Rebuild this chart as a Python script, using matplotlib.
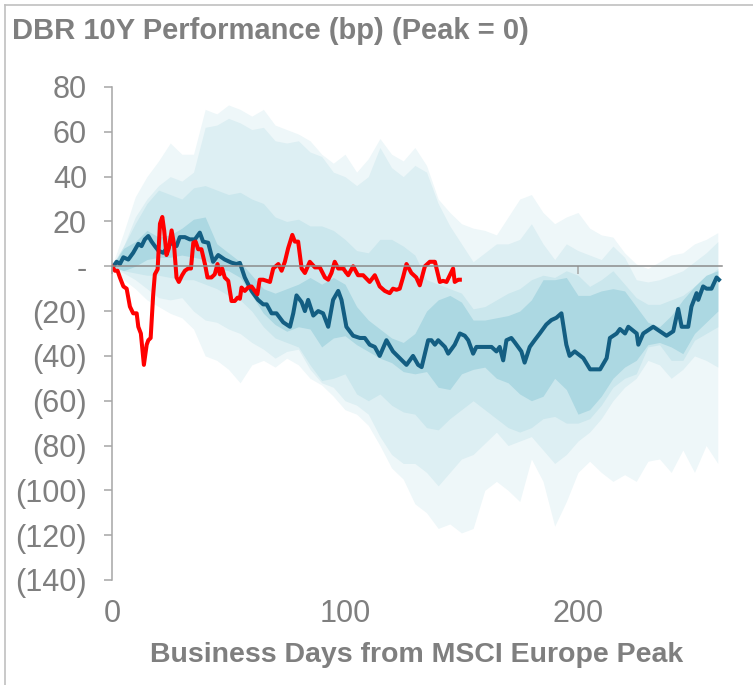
import numpy as np
import matplotlib
matplotlib.use("Agg")
import matplotlib.pyplot as plt
from matplotlib.ticker import FuncFormatter
from matplotlib.lines import Line2D

plt.rcParams['font.family'] = ['Liberation Sans', 'DejaVu Sans']

# percentile bands of past sell-offs, every 5 business days
band_days = list(range(0, 261, 5))
outer_hi = [0, 15, 31, 40, 47, 55, 50, 50, 70, 68, 72, 70, 67, 70, 63, 61, 59, 56, 50, 46,
            50, 42, 48, 57, 50, 47, 53, 45, 30, 24, 19, 17, 16, 14, 22, 30, 32, 24, 19, 22,
            24, 17, 14, 13, 6, 1, -1, 2, 5, 6, 10, 12, 15]
band2_hi = [0, 9, 22, 30, 36, 40, 38, 42, 62, 63, 66, 64, 61, 62, 56, 55, 56, 51, 49, 42,
            40, 36, 40, 53, 44, 40, 45, 42, 28, 18, 10, 2, 6, 10, 10, 12, 19, 10, 3, 10,
            7, 5, 3, 9, 4, -6, -7, -6, -4, -2, 2, 6, 11]
band3_hi = [0, 9, 19, 28, 34, 32, 30, 35, 36, 34, 32, 33, 30, 28, 22, 20, 21, 18, 18, 16,
            12, 7, 6, 12, 12, 9, 5, -6, -8, -10, -12, -19, -18, -15, -12, -10, -6, -4, -5, -2,
            -4, -9, -6, -2, -8, -14, -17, -17, -15, -13, -9, -5, -1]
inner_hi = [0, 8, 11, 16, 13, 14, 17, 21, 22, 10, 6, 2, -4, -10, -12, -10, -8, -5, -8, -5,
            -8, -18, -24, -28, -32, -34, -30, -20, -15, -13, -16, -24, -24, -23, -22, -20, -15, -6, -6, -5,
            -13, -13, -11, -10, -11, -18, -25, -27, -22, -15, -9, -4, -2]
inner_lo = [0, -2, 0, 3, 4, 4, 5, 4, 3, -1, -2, -5, -13, -21, -26, -29, -27, -28, -36, -32,
            -31, -35, -38, -41, -43, -47, -48, -47, -54, -55, -48, -46, -45, -50, -52, -57, -60, -58, -50, -55,
            -66, -64, -58, -50, -45, -42, -35, -34, -36, -39, -30, -25, -20]
band3_lo = [0, -2, -3, -4, -4, -5, -6, -6, -8, -10, -13, -15, -20, -27, -32, -34, -36, -44, -51, -50,
            -48, -57, -60, -57, -62, -65, -66, -72, -73, -68, -64, -60, -64, -68, -72, -74, -72, -68, -67, -70,
            -70, -68, -62, -54, -50, -48, -36, -35, -42, -42, -33, -30, -27]
band2_lo = [0, -3, -6, -10, -14, -15, -14, -20, -24, -25, -28, -30, -34, -37, -41, -38, -37, -46, -52, -54,
            -60, -62, -66, -76, -84, -88, -88, -92, -98, -92, -86, -84, -79, -74, -80, -78, -76, -82, -88, -84,
            -78, -74, -68, -60, -54, -50, -42, -44, -50, -46, -40, -42, -45]
outer_lo = [0, -6, -10, -15, -18, -21, -23, -28, -40, -42, -46, -52, -44, -42, -45, -41, -44, -50, -53, -58,
            -64, -66, -71, -80, -90, -95, -106, -110, -117, -115, -119, -117, -100, -96, -100, -105, -86, -96, -116, -105,
            -92, -87, -92, -96, -93, -96, -87, -86, -92, -82, -92, -80, -88]

# median path
med_days = [0, 0.6, 2, 3.4, 4.9, 7, 9.1, 11.3, 12.7, 14.1, 15.6, 17, 18.4, 19.9, 22, 23.4, 25.6, 27.7,
            29.1, 31.3, 33.4, 35.6, 37.7, 39.1, 41.3, 43.4, 45.6, 48.4, 51.3, 53.4, 54.9, 57, 59.9, 62.7,
            64.9, 66.4, 68.5, 70.6, 73.5, 76.4, 77.8, 79.2, 81.4, 82.8, 84.2, 86.4, 88.5, 90.6, 92.8, 94.9,
            97.1, 98.5, 100.6, 103.5, 106.4, 108.5, 110.6, 112.8, 114.9, 117.8, 120.6, 123.5, 126.4, 129.2,
            131.4, 132.9, 135.7, 137.1, 138.6, 140, 142.9, 144.3, 147.1, 149.3, 151.4, 152.9, 155, 156.4,
            157.9, 162.9, 165, 166.4, 167.9, 169.3, 171.4, 172.9, 175.7, 177.1, 179.3, 181.4, 183.6, 185,
            186.4, 188.6, 190.7, 192.9, 195, 196.4, 198.6, 202.3, 205.2, 209.5, 212.3, 213.7, 216.6, 218,
            220.2, 221.6, 225.2, 225.9, 228, 232.3, 238, 240.9, 243, 244.5, 247.3, 248.7, 250.9, 251.6,
            253.7, 255.2, 257.3, 259.5, 260.5]
med_vals = [0, 0, 2, 1, 4, 3, 6, 10, 9, 12, 13.5, 11, 9, 7, 6, 8, 10.5, 9,
            13, 13, 12, 12, 15, 11, 10.5, 2, 5, 3, 1.6, 1, 1.5, -5, -11, -15,
            -17, -17, -21, -21, -25, -27, -21, -13, -16, -20, -15, -22, -20, -21, -27, -15,
            -11, -15, -27, -31, -32, -32, -35, -36, -40, -33, -38, -41, -44, -40,
            -44, -45, -33, -33, -35, -33, -36, -39, -35, -30, -31, -33, -39, -36,
            -36, -36, -38, -36, -42, -33, -32, -34, -38, -43, -36, -33, -30, -28,
            -26, -24, -23, -21, -35, -40, -38, -41, -46, -46, -41, -32, -30, -28,
            -30, -27, -30, -35, -30, -27, -31, -29, -19, -27, -27, -18, -12, -15,
            -9, -10, -10, -5, -6]

# current episode
cur_days = [0, 1.3, 2.4, 3.4, 4.9, 6.3, 7.7, 9.1, 10.6, 11.3, 12.4, 13.7, 14.9, 15.6, 16.6, 17.7,
            18.4, 19.6, 20.6, 21.6, 22.4, 23.4, 24.4, 25.6, 26.6, 27.7, 28.7, 30.1, 31.3, 32.7, 33.9,
            34.9, 35.9, 37, 38.4, 39.9, 41, 42.7, 44.1, 45.3, 46.3, 47.3, 48.4, 49.9, 51.3, 52.7, 53.9,
            54.9, 55.6, 57, 58.4, 59.9, 61.3, 62.4, 63.4, 64.9, 67.8, 69.2, 71.4, 72.8, 74.2, 75.6,
            77.4, 78.5, 79.9, 81.4, 82.8, 84.9, 87.1, 89.2, 91.4, 92.8, 94.2, 95.6, 97.1, 99.2, 101.4,
            103.5, 105.6, 107.8, 110.6, 112.8, 114.9, 117.1, 119.2, 120.6, 122.1, 123.5, 124.9, 126.4,
            128.5, 130.6, 132.1, 134.3, 136.4, 138.6, 140.7, 142.1, 143.6, 145, 146.4, 147.1, 148.6, 149.3]
cur_vals = [0, -2, -2, -5, -9, -10, -18, -21, -21, -27, -30, -44, -35, -33, -32, -12.5,
            -3.6, -1.3, 19, 22, 16, 5, 8, 16, 10, -5, -7, -4, -2, -1, -1,
            10.5, 11, 7.6, 7.6, 1, -5, -5, -3.6, 1, -3.6, -1, -5, -6.5, -15.5, -15.5, -14,
            -14.5, -9.5, -11, -9.5, -9, -11, -12.5, -6, -6, -7, -1, 1, -2, 2, 8,
            14, 11, 11, -1, -3, 2, -0.5, -0.5, -5, -6, -3, 2, -1, -1, -4,
            0, -4, -4, -7, -4, -9, -11, -12, -10, -10.5, -10, -5, 1,
            -3, -5, -8.5, 0, 2, 2, -7, -6.5, -7, -4, -1, -7, -6, -6]

ytick_vals = list(range(-140, 81, 20))
xtick_vals = [0, 100, 200]


def paren_fmt(v, pos):
    if v == 0:
        return "-"
    if v < 0:
        return "(%d)" % abs(v)
    return "%d" % v


grey = "#7f7f7f"
fig = plt.figure(figsize=(7.53, 6.85), dpi=100)
ax = fig.add_axes([0.1487, 0.1533, 0.8101, 0.7197])

ax.fill_between(band_days, outer_lo, outer_hi, color="#eef7f9", lw=0)
ax.fill_between(band_days, band2_lo, band2_hi, color="#ddeff3", lw=0)
ax.fill_between(band_days, band3_lo, band3_hi, color="#cbe7ed", lw=0)
ax.fill_between(band_days, inner_lo, inner_hi, color="#acd8e2", lw=0)
ax.plot(med_days, med_vals, color="#135e82", lw=2.9, solid_joinstyle="round")
ax.plot(cur_days, cur_vals, color="#ff0000", lw=2.9, solid_joinstyle="round")

ax.set_xlim(0, 261.8)
ax.set_ylim(-140, 80)
ax.set_yticks(ytick_vals)
ax.yaxis.set_major_formatter(FuncFormatter(paren_fmt))
ax.tick_params(axis="y", direction="out", length=6, width=1.1, color="#a6a6a6",
               labelsize=22, labelcolor=grey, pad=12)

# x axis line sits on zero, labels sit at the bottom
ax.spines["bottom"].set_position(("data", 0))
ax.spines["bottom"].set_color("#8c8c8c")
ax.spines["bottom"].set_linewidth(1.1)
ax.spines["left"].set_color("#a6a6a6")
ax.spines["left"].set_linewidth(1.1)
ax.spines["top"].set_visible(False)
ax.spines["right"].set_visible(False)
ax.set_xticks(xtick_vals)
ax.tick_params(axis="x", direction="out", length=6, width=1.1, color="#a6a6a6", labelbottom=False)

sec = ax.secondary_xaxis(0)
sec.set_xticks(xtick_vals)
sec.spines["bottom"].set_visible(False)
sec.tick_params(length=0, labelsize=22, labelcolor=grey, pad=14)
sec.set_xlabel("Business Days from MSCI Europe Peak", fontsize=20.5, fontweight="bold",
               color=grey, labelpad=9)

fig.text(0.016, 0.955, "DBR 10Y Performance (bp) (Peak = 0)", fontsize=21,
         fontweight="bold", color=grey, va="center", ha="left")

# frame around the chart
fig.add_artist(Line2D([0.007, 0.007], [0.0, 0.993], transform=fig.transFigure, color="#c0c0c0", lw=1.2))
fig.add_artist(Line2D([0.007, 1.0], [0.993, 0.993], transform=fig.transFigure, color="#c0c0c0", lw=1.2))

fig.savefig("out.png", dpi=100)
